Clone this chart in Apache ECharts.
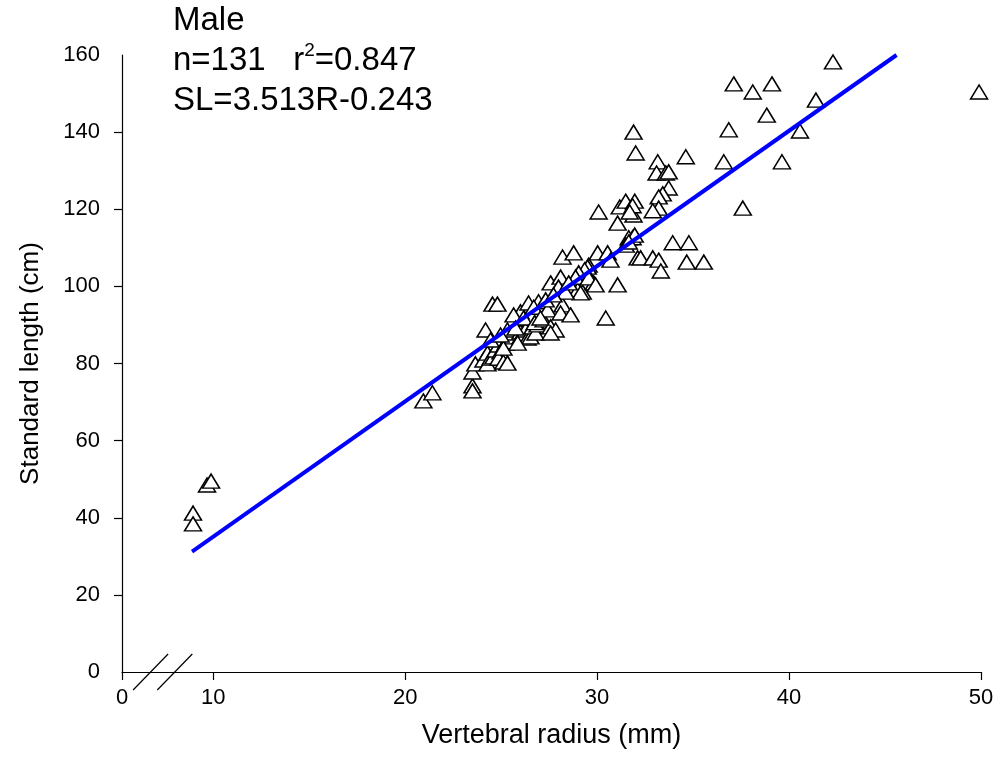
<!DOCTYPE html>
<html>
<head>
<meta charset="utf-8">
<script src="https://cdn.jsdelivr.net/npm/echarts@6/dist/echarts.min.js"></script>
<style>
html,body{margin:0;padding:0;background:#fff;}
#chart{width:1000px;height:778px;}
</style>
</head>
<body>
<div id="chart"></div>
<script>
// ---- data ----
const radius = [8.95,8.95,9.68,9.89,20.95,21.42,23.51,23.51,23.51,23.66,24.08,24.29,24.29,24.45,24.19,24.55,24.81,24.6,24.71,24.86,24.97,24.86,25.12,25.33,25.23,25.39,25.59,25.65,25.33,25.86,26.01,26.01,26.27,26.38,26.53,26.64,26.79,26.9,26.01,25.65,26.17,26.43,26.9,26.75,27.21,27.58,27.84,27.58,26.95,26.7,27.42,28.2,28.1,28.62,27.58,28.1,27.99,28.99,29.25,29.82,28.2,28.78,29.56,29.51,29.35,29.04,28.88,29.56,29.92,29.14,30.03,30.55,31.07,30.45,30.08,31.07,31.18,31.49,31.96,31.9,31.85,31.65,31.85,31.49,31.96,32.11,32.27,32.9,33.21,33.32,31.9,32.01,33.16,33.1,33.58,33.73,33.73,33.42,33.21,33.21,32.9,33.94,34.78,34.67,35.56,34.62,36.6,36.86,37.12,38.11,39.11,38.84,39.63,40.57,41.4,42.29,37.59,49.9,25.12,25.75,27.05,27.32,28.36,28.52,27.73,24.45,25.86,30.7,31.7,31.65,24.97];
const stdLength = [41.2,38.4,48.5,49.5,70.3,72.4,74.2,72.9,77.8,79.9,80.9,82.7,79.9,81.4,88.7,95.4,95.4,81.7,83.5,84.8,83.0,81.4,80.4,80.1,85.3,85.6,86.9,87.9,88.7,90.0,88.2,86.9,88.7,86.6,86.9,89.5,87.9,90.0,93.4,92.6,91.8,95.7,95.2,90.6,91.3,89.5,88.7,87.9,96.0,94.6,93.9,95.2,93.1,92.6,100.9,102.4,99.8,99.1,98.5,100.9,107.6,108.7,105.5,105.0,104.3,103.5,102.4,102.2,100.4,98.3,108.7,108.7,100.4,91.8,119.3,116.4,120.6,122.1,122.1,118.5,120.9,112.6,112.6,110.7,113.3,107.4,107.4,107.4,106.8,104.0,140.0,134.6,132.3,129.4,129.4,129.7,125.5,124.0,123.2,120.3,119.6,111.3,111.3,106.3,106.3,133.6,132.3,140.6,152.5,150.4,152.5,144.4,132.3,140.3,148.3,158.2,120.3,150.4,84.0,89.2,91.8,96.5,98.5,100.9,97.8,86.1,85.3,106.8,119.3,111.5,87.4];
const fitX = [8.9, 45.6];
const fitY = [31.2, 160.0];
const xTickValues = [5.25, 10, 20, 30, 40, 50];   // first position is the broken-axis origin
const xTickLabels = ['0', '10', '20', '30', '40', '50'];
const yTickLabels = ['0','20','40','60','80','100','120','140','160'];
const yTickMarks = [20, 40, 60, 80, 100, 120, 140];
const annotation = ['Male', 'n=131   r{sup|2}=0.847', 'SL=3.513R-0.243'];

const FONT = '"Liberation Sans", Arial, sans-serif';
const chart = echarts.init(document.getElementById('chart'), null, {renderer: 'canvas'});

const option = {
  animation: false,
  backgroundColor: '#fff',
  title: {
    left: 173, top: 1, padding: 0,
    text: annotation.join('\n'),
    textStyle: {
      fontFamily: FONT, fontSize: 33, fontWeight: 'normal', color: '#000', lineHeight: 40,
      rich: { sup: { fontFamily: FONT, fontSize: 19, color: '#000', verticalAlign: 'top', lineHeight: 30 } }
    }
  },
  grid: { left: 122, right: 19, top: 55, bottom: 106 },
  xAxis: {
    type: 'value', min: 5.25, max: 50,
    name: 'Vertebral radius (mm)', nameLocation: 'middle', nameGap: 50,
    nameTextStyle: { fontFamily: FONT, fontSize: 27, color: '#000' },
    axisLine: { show: true, onZero: false, lineStyle: { color: '#000', width: 1.2 } },
    axisTick: { show: true, inside: false, length: 8, customValues: xTickValues, lineStyle: { color: '#000', width: 1.2 } },
    axisLabel: {
      customValues: xTickValues, margin: 15, fontFamily: FONT, fontSize: 22, color: '#000',
      formatter: v => xTickLabels[xTickValues.indexOf(v)] ?? ''
    },
    splitLine: { show: false }
  },
  yAxis: {
    type: 'value', min: 0, max: 160, interval: 20,
    name: 'Standard length (cm)', nameLocation: 'middle', nameGap: 78, nameRotate: 90,
    nameTextStyle: { fontFamily: FONT, fontSize: 26, color: '#000' },
    axisLine: { show: true, lineStyle: { color: '#000', width: 1.2 } },
    axisTick: { show: true, inside: false, length: 8, customValues: yTickMarks, lineStyle: { color: '#000', width: 1.2 } },
    axisLabel: {
      margin: 22, fontFamily: FONT, fontSize: 22, color: '#000',
      formatter: (v) => yTickLabels[Math.round(v / 20)] ?? ''
    },
    splitLine: { show: false }
  },
  series: [
    {
      type: 'scatter',
      data: radius.map((r, i) => [r, stdLength[i]]),
      symbol: 'triangle', symbolSize: [17, 14],
      itemStyle: { color: '#fff', borderColor: '#000', borderWidth: 1.5, opacity: 1 },
      z: 2
    },
    {
      type: 'line',
      data: fitX.map((x, i) => [x, fitY[i]]),
      showSymbol: false, symbol: 'none',
      lineStyle: { color: '#0000ff', width: 4 },
      z: 3
    }
  ]
};
chart.setOption(option);

// axis-break slashes placed through the axis scale
const breakCenters = [6.74, 8.0];
const axisY = chart.convertToPixel({yAxisIndex: 0}, 0);
chart.setOption({
  graphic: breakCenters.map(c => {
    const px = chart.convertToPixel({xAxisIndex: 0}, c);
    return { type: 'line', shape: { x1: px - 17.5, y1: axisY + 18, x2: px + 17.5, y2: axisY - 18 },
             style: { stroke: '#000', lineWidth: 1.2 }, z: 10 };
  })
});
</script>
</body>
</html>
